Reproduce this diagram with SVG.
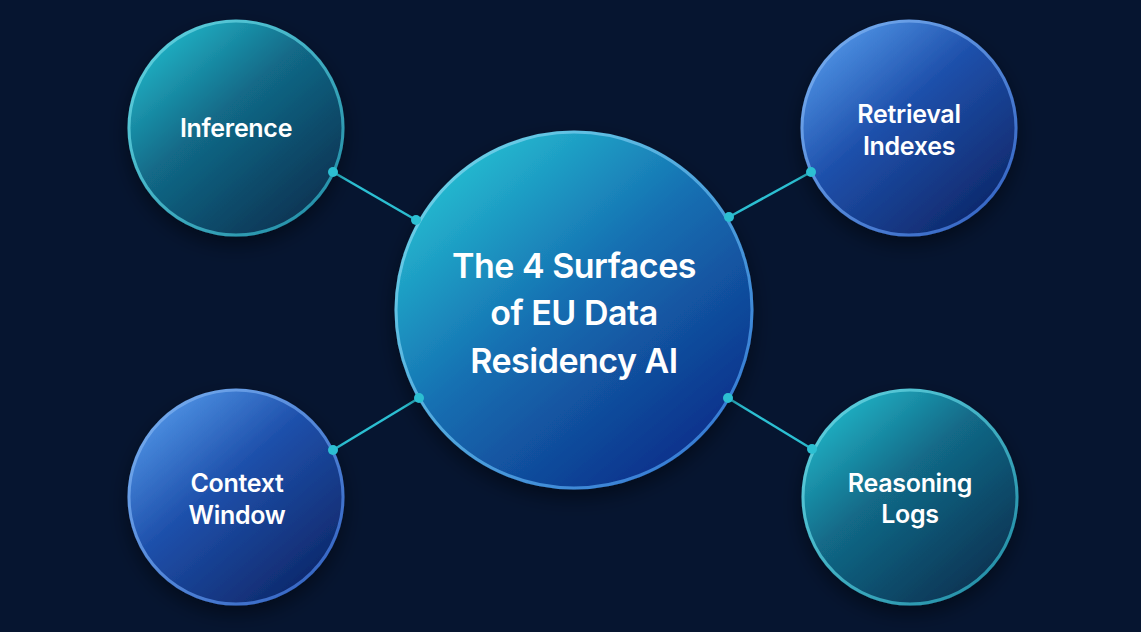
<svg xmlns="http://www.w3.org/2000/svg" width="1141" height="632" viewBox="0 0 1141 632">
  <defs>
    <linearGradient id="gTeal" x1="0.12" y1="0.1" x2="0.85" y2="0.95">
      <stop offset="0" stop-color="#21b2c5"/>
      <stop offset="0.4" stop-color="#126a88"/>
      <stop offset="1" stop-color="#0a3050"/>
    </linearGradient>
    <linearGradient id="gBlue" x1="0.12" y1="0.1" x2="0.85" y2="0.95">
      <stop offset="0" stop-color="#4e92e4"/>
      <stop offset="0.4" stop-color="#1f51ac"/>
      <stop offset="1" stop-color="#0d2668"/>
    </linearGradient>
    <linearGradient id="gCenter" x1="0.12" y1="0.08" x2="0.85" y2="0.95">
      <stop offset="0" stop-color="#25c0d2"/>
      <stop offset="0.45" stop-color="#1670b2"/>
      <stop offset="1" stop-color="#0c2b88"/>
    </linearGradient>
    <linearGradient id="sTeal" x1="0" y1="0" x2="1" y2="1">
      <stop offset="0" stop-color="#63d6e3"/>
      <stop offset="1" stop-color="#1e88a2"/>
    </linearGradient>
    <linearGradient id="sBlue" x1="0" y1="0" x2="1" y2="1">
      <stop offset="0" stop-color="#7ab2f2"/>
      <stop offset="1" stop-color="#2e5ec0"/>
    </linearGradient>
    <linearGradient id="sCenter" x1="0" y1="0" x2="1" y2="1">
      <stop offset="0" stop-color="#72dde9"/>
      <stop offset="1" stop-color="#2e6ed2"/>
    </linearGradient>
    <filter id="shadow" x="-30%" y="-30%" width="160%" height="160%">
      <feDropShadow dx="0" dy="8" stdDeviation="10" flood-color="#000000" flood-opacity="0.45"/>
    </filter>
  </defs>
  <style>
    .bg { fill: #061530; }
    .link { stroke: #2cbfd2; stroke-width: 2.5; fill: none; }
    .dot { fill: #2cbfd2; }
    .label { font-family: Inter, "Liberation Sans", sans-serif; font-weight: 600; fill: #ffffff; text-anchor: middle; }
    .small { font-size: 25px; letter-spacing: -0.3px; }
    .big { font-size: 34px; letter-spacing: -0.5px; }
  </style>
  <rect class="bg" x="0" y="0" width="1141" height="632"/>

  <g id="connectors">
    <line class="link" x1="333" y1="172" x2="416" y2="220"/>
    <line class="link" x1="811" y1="172" x2="729" y2="217"/>
    <line class="link" x1="333" y1="450" x2="419" y2="398"/>
    <line class="link" x1="812" y1="449" x2="728" y2="398"/>
  </g>

  <g id="node-center">
    <circle cx="574" cy="310" r="178" fill="url(#gCenter)" stroke="url(#sCenter)" stroke-width="3" filter="url(#shadow)"/>
    <text class="label big" x="574" y="278">The 4 Surfaces</text>
    <text class="label big" x="574" y="325">of EU Data</text>
    <text class="label big" x="574" y="373">Residency AI</text>
  </g>

  <g id="node-inference">
    <circle cx="236" cy="128" r="107" fill="url(#gTeal)" stroke="url(#sTeal)" stroke-width="3" filter="url(#shadow)"/>
    <text class="label small" x="236" y="137">Inference</text>
  </g>

  <g id="node-retrieval">
    <circle cx="909" cy="128" r="107" fill="url(#gBlue)" stroke="url(#sBlue)" stroke-width="3" filter="url(#shadow)"/>
    <text class="label small" x="909" y="123">Retrieval</text>
    <text class="label small" x="909" y="155">Indexes</text>
  </g>

  <g id="node-context">
    <circle cx="236" cy="497" r="107" fill="url(#gBlue)" stroke="url(#sBlue)" stroke-width="3" filter="url(#shadow)"/>
    <text class="label small" x="237" y="492">Context</text>
    <text class="label small" x="237" y="524">Window</text>
  </g>

  <g id="node-reasoning">
    <circle cx="910" cy="497" r="107" fill="url(#gTeal)" stroke="url(#sTeal)" stroke-width="3" filter="url(#shadow)"/>
    <text class="label small" x="910" y="492">Reasoning</text>
    <text class="label small" x="910" y="523">Logs</text>
  </g>

  <g id="connector-dots">
    <circle class="dot" cx="333" cy="172" r="5"/>
    <circle class="dot" cx="416" cy="220" r="5"/>
    <circle class="dot" cx="811" cy="172" r="5"/>
    <circle class="dot" cx="729" cy="217" r="5"/>
    <circle class="dot" cx="333" cy="450" r="5"/>
    <circle class="dot" cx="419" cy="398" r="5"/>
    <circle class="dot" cx="812" cy="449" r="5"/>
    <circle class="dot" cx="728" cy="398" r="5"/>
  </g>
</svg>
